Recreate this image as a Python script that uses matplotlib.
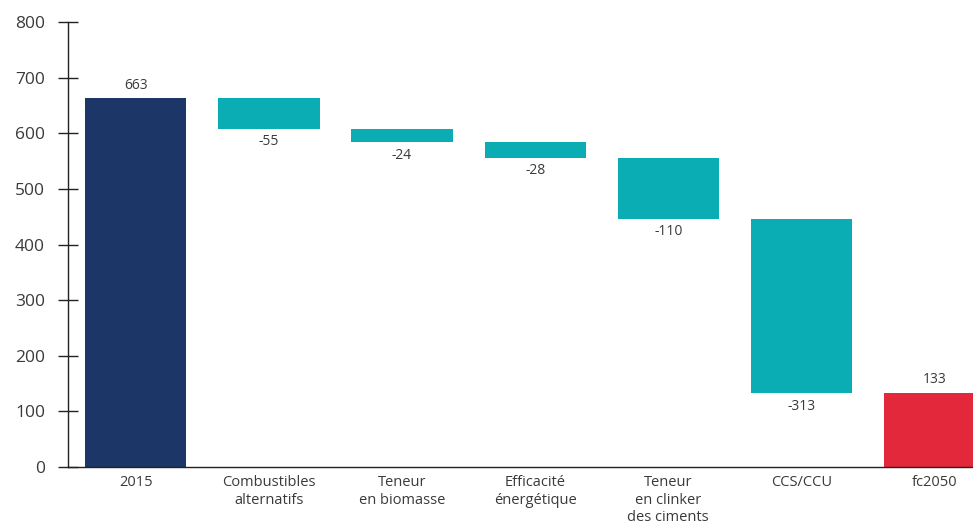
import matplotlib

matplotlib.use("Agg")

import matplotlib.pyplot as plt
import numpy as np

categories = [
    "2015",
    "Combustibles\nalternatifs",
    "Teneur\nen biomasse",
    "Efficacité\nénergétique",
    "Teneur\nen clinker\ndes ciments",
    "CCS/CCU",
    "fc2050",
]
start_value = 663
changes = [-55, -24, -28, -110, -313]
end_value = 133

NAVY = "#1c3767"
TEAL = "#0aadb3"
RED = "#e2283a"
TEXT = "#3a3a3a"

plt.rcParams["font.family"] = ["Open Sans", "DejaVu Sans"]

levels = start_value + np.cumsum([0] + changes)
bottoms = [0] + [min(levels[i], levels[i + 1]) for i in range(len(changes))] + [0]
heights = [start_value] + [abs(c) for c in changes] + [end_value]
colors = [NAVY] + [TEAL] * len(changes) + [RED]
labels = [str(start_value)] + [str(c) for c in changes] + [str(end_value)]

fig = plt.figure(figsize=(9.73, 5.25), dpi=100)
ax = fig.add_axes([0.0699, 0.1105, 0.9301, 0.8475])

x = np.arange(len(categories))
ax.bar(x, heights, bottom=bottoms, color=colors, width=0.76)

for i, (b, h, lab) in enumerate(zip(bottoms, heights, labels)):
    if i == 0 or i == len(categories) - 1:
        ax.text(i, b + h + 10, lab, ha="center", va="bottom", fontsize=10, color=TEXT)
    else:
        ax.text(i, b - 10, lab, ha="center", va="top", fontsize=10, color=TEXT)

ax.set_xlim(-0.51, 6.29)
ax.set_ylim(0, 800)
ax.set_yticks(range(0, 801, 100))
ax.set_xticks(x)
ax.set_xticklabels(categories, fontsize=10.5, color=TEXT)

ax.spines["top"].set_visible(False)
ax.spines["right"].set_visible(False)
for side in ["left", "bottom"]:
    ax.spines[side].set_color("#222222")
    ax.spines[side].set_linewidth(1.0)

ax.tick_params(axis="y", direction="inout", length=15, width=1.0, color="#222222",
               labelsize=12.5, labelcolor=TEXT, pad=9)
ax.tick_params(axis="x", length=0, pad=6)

fig.savefig("out.png", dpi=100)
